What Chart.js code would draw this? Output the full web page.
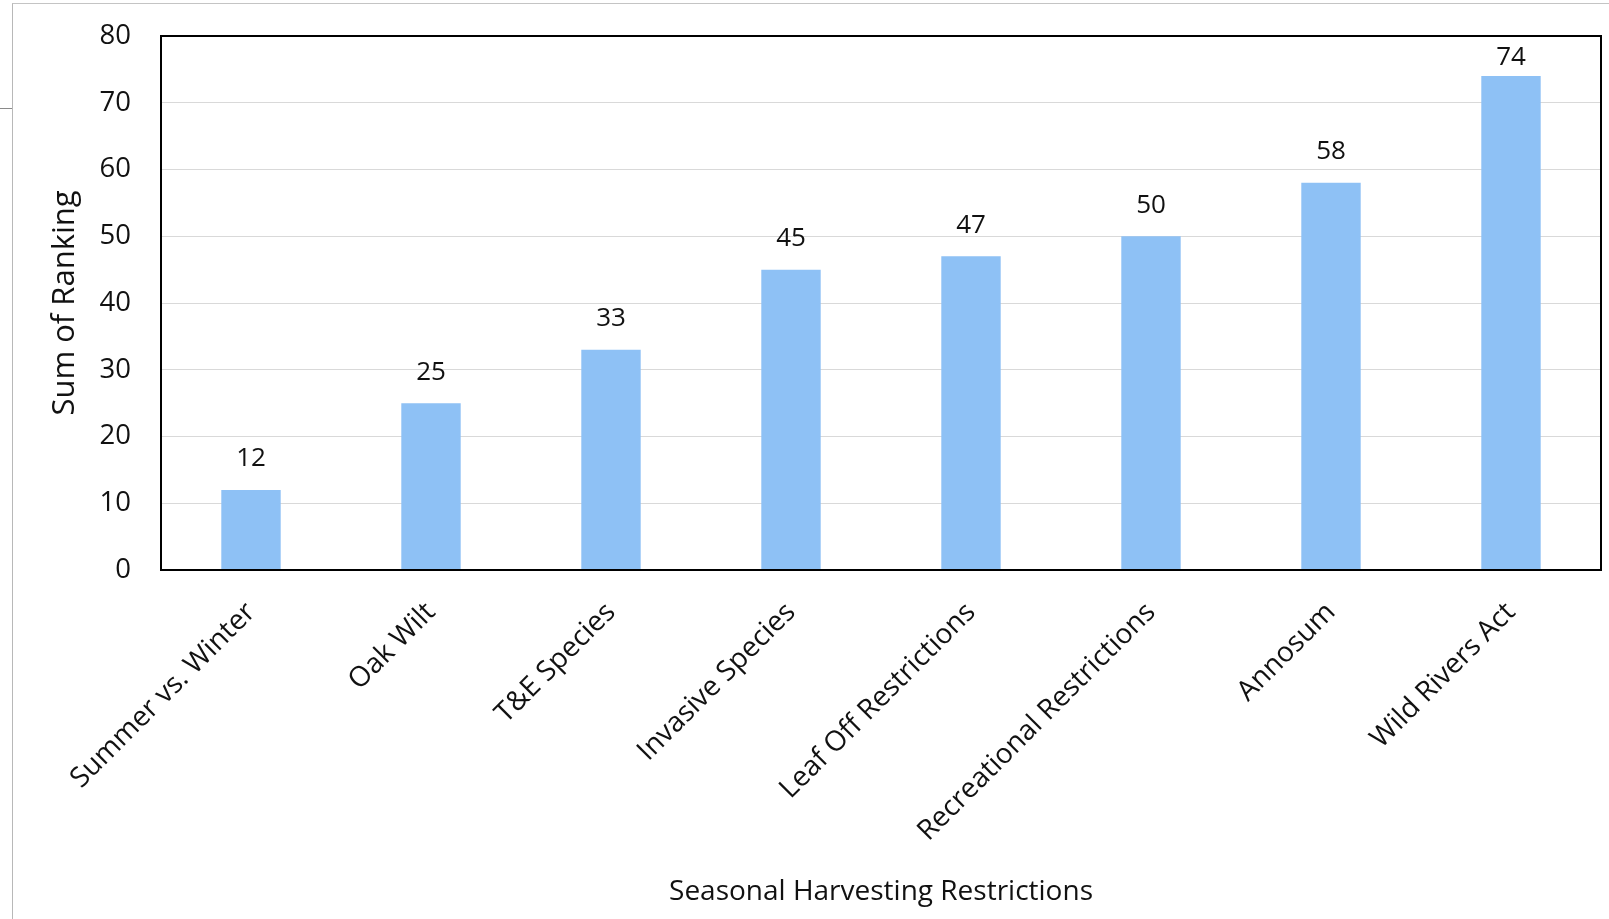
<!DOCTYPE html>
<html>
<head>
<meta charset="utf-8">
<script src="https://cdn.jsdelivr.net/npm/chart.js@4/dist/chart.umd.min.js"></script>
<style>
  html, body { margin: 0; padding: 0; background: #fff; }
  #wrap { position: relative; width: 1609px; height: 919px; overflow: hidden; }
  #frame { position: absolute; left: 12px; top: 3px; width: 1620px; height: 930px; border-left: 1px solid #b8b8b8; border-top: 1px solid #c4c4c4; }
  #tick { position: absolute; left: 0; top: 108px; width: 12px; height: 0; border-top: 1px solid #8a8a8a; }
  canvas { position: absolute; left: 0; top: 0; }
</style>
</head>
<body>
<div id="wrap">
  <div id="frame"></div>
  <div id="tick"></div>
  <canvas id="c" width="1609" height="919"></canvas>
</div>
<script>
const categories = ["Summer vs. Winter", "Oak Wilt", "T&E Species", "Invasive Species", "Leaf Off Restrictions", "Recreational Restrictions", "Annosum", "Wild Rivers Act"];
const sumOfRanking = [12, 25, 33, 45, 47, 50, 58, 74];
const yTickMax = 80;
const yTickStep = 10;
const xTitle = "Seasonal Harvesting Restrictions";
const yTitle = "Sum of Ranking";

const FONT = "'Open Sans', 'Noto Sans', sans-serif";

const frameBox = {
  id: 'frameBox',
  afterDatasetsDraw(chart) {
    const { ctx, chartArea: a } = chart;
    ctx.save();
    ctx.strokeStyle = '#000';
    ctx.lineWidth = 2;
    ctx.strokeRect(a.left, a.top, a.right - a.left, a.bottom - a.top);
    ctx.restore();
  }
};

const valueLabels = {
  id: 'valueLabels',
  afterDatasetsDraw(chart) {
    const { ctx, chartArea } = chart;
    const meta = chart.getDatasetMeta(0);
    ctx.save();
    ctx.fillStyle = '#111';
    ctx.font = '26px ' + FONT;
    ctx.textAlign = 'center';
    ctx.textBaseline = 'middle';
    meta.data.forEach((bar, i) => {
      const y = Math.max(bar.y - 31, chartArea.top + 22);
      ctx.fillText(String(chart.data.datasets[0].data[i]), bar.x, y);
    });
    ctx.restore();
  }
};

new Chart(document.getElementById('c'), {
  type: 'bar',
  data: {
    labels: categories,
    datasets: [{
      data: sumOfRanking,
      backgroundColor: 'rgb(142,193,245)',
      borderWidth: 0,
      categoryPercentage: 1.0,
      barPercentage: 0.33
    }]
  },
  options: {
    responsive: false,
    animation: false,
    devicePixelRatio: 1,
    layout: { padding: { left: 12, right: 8, top: 36, bottom: 0 } },
    plugins: { legend: { display: false }, tooltip: { enabled: false } },
    scales: {
      x: {
        grid: { display: false, drawTicks: false },
        border: { display: false },
        ticks: {
          color: '#111',
          font: { family: FONT, size: 28 },
          minRotation: 45,
          maxRotation: 45,
          padding: 26,
          autoSkip: false
        },
        title: {
          display: true,
          text: xTitle,
          color: '#111',
          font: { family: FONT, size: 28 },
          padding: { top: 0, bottom: 10 }
        },
        afterFit(scale) { scale.height = 919 - 570; }
      },
      y: {
        min: 0,
        max: yTickMax,
        grid: { color: '#d9d9d9', lineWidth: 1, drawTicks: false },
        border: { display: false },
        ticks: {
          stepSize: yTickStep,
          color: '#111',
          font: { family: FONT, size: 27.5 },
          padding: 30
        },
        title: {
          display: true,
          text: yTitle,
          color: '#111',
          font: { family: FONT, size: 31 },
          padding: { top: 35, bottom: 0 }
        },
        afterFit(scale) {
          scale.width = 161 - 12;
          scale.paddingTop = 0;
          scale.paddingBottom = 0;
        }
      }
    }
  },
  plugins: [frameBox, valueLabels]
});
</script>
</body>
</html>
